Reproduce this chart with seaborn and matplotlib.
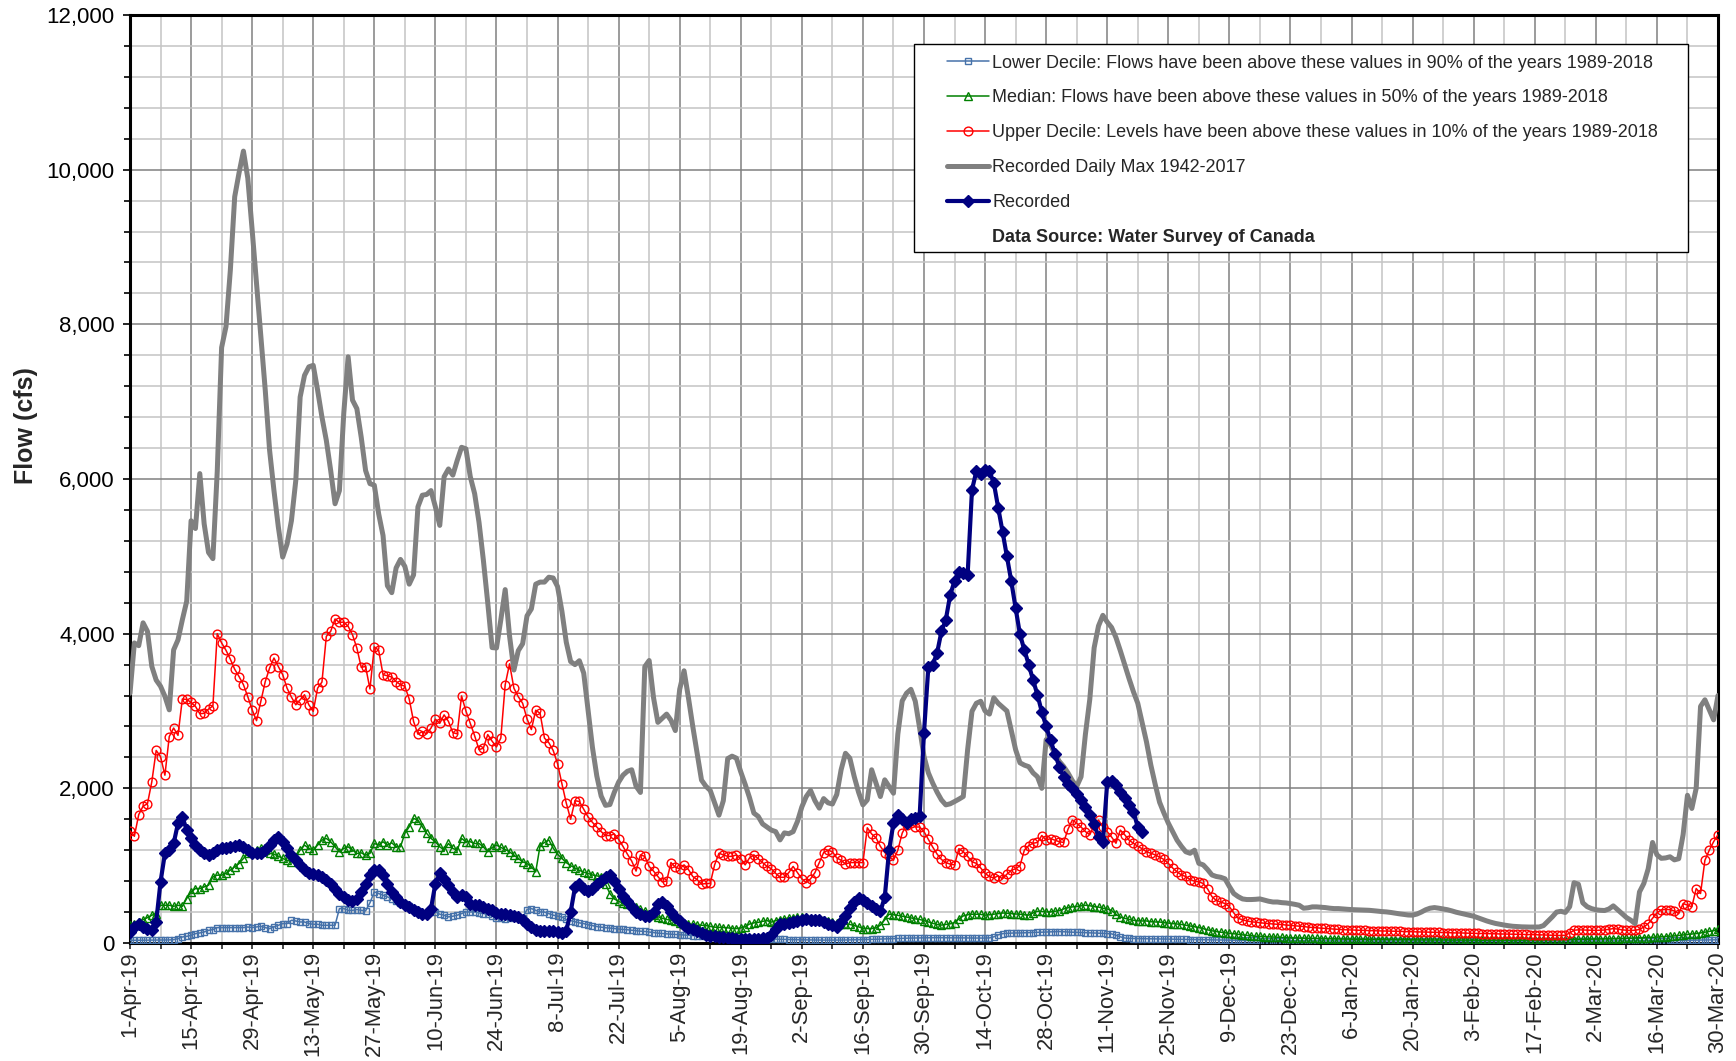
import pandas as pd
import matplotlib
matplotlib.use("Agg")
import matplotlib.pyplot as plt
import matplotlib.dates as mdates
import matplotlib.ticker as mticker
from matplotlib.lines import Line2D
from matplotlib.patches import Rectangle
import seaborn as sns

# daily values, 1-Apr-19 .. 30-Mar-20 (rows of 14 days)
daily_max = [
    3230, 3880, 3845, 4140, 4030, 3577, 3400, 3320, 3190, 3015, 3790, 3920, 4180, 4420,
    5460, 5360, 6070, 5420, 5050, 4970, 6100, 7700, 7970, 8700, 9650, 9960, 10240, 9890,
    9220, 8530, 7840, 7150, 6370, 5850, 5380, 4990, 5160, 5460, 5980, 7060, 7340, 7450,
    7470, 7150, 6800, 6500, 6110, 5680, 5850, 6850, 7580, 7020, 6910, 6540, 6110, 5940,
    5920, 5550, 5270, 4620, 4530, 4850, 4960, 4870, 4640, 4760, 5640, 5790, 5800, 5850,
    5640, 5400, 6030, 6130, 6050, 6240, 6410, 6390, 6030, 5810, 5440, 4950, 4400, 3820,
    3815, 4180, 4570, 3970, 3530, 3780, 3870, 4230, 4320, 4640, 4667, 4667, 4730, 4720,
    4610, 4290, 3890, 3640, 3600, 3650, 3490, 3013, 2530, 2160, 1900, 1780, 1790, 1947,
    2080, 2170, 2220, 2240, 2027, 1947, 3573, 3653, 3173, 2853, 2907, 2960, 2880, 2747,
    3280, 3520, 3173, 2800, 2453, 2107, 2027, 1973, 1813, 1653, 1840, 2384, 2416, 2390,
    2213, 2053, 1880, 1680, 1637, 1540, 1500, 1460, 1440, 1333, 1424, 1413, 1440, 1573,
    1760, 1893, 1973, 1840, 1744, 1867, 1813, 1797, 1920, 2240, 2453, 2390, 2153, 1950,
    1786, 1850, 2240, 2067, 1894, 2110, 2024, 1937, 2700, 3130, 3230, 3280, 3126, 2780,
    2413, 2200, 2067, 1950, 1850, 1786, 1800, 1829, 1860, 1894, 2500, 2996, 3100, 3126,
    3000, 2960, 3170, 3100, 3050, 3000, 2750, 2500, 2330, 2300, 2280, 2200, 2150, 2000,
    2630, 2560, 2450, 2350, 2283, 2200, 2100, 2024, 2150, 2700, 3150, 3818, 4100, 4237,
    4150, 4080, 3950, 3780, 3600, 3420, 3250, 3100, 2850, 2600, 2300, 2050, 1820, 1680,
    1550, 1440, 1330, 1250, 1180, 1160, 1200, 1030, 1010, 950, 880, 860, 850, 830,
    730, 640, 600, 570, 562, 562, 565, 570, 555, 540, 530, 530, 522, 518,
    510, 500, 488, 450, 455, 467, 467, 462, 458, 450, 445, 445, 440, 436,
    432, 430, 427, 425, 423, 418, 412, 406, 402, 395, 386, 377, 370, 362,
    360, 375, 400, 430, 450, 458, 450, 440, 430, 415, 398, 385, 372, 360,
    346, 326, 305, 285, 268, 253, 242, 232, 223, 216, 212, 209, 207, 206,
    206, 207, 225, 280, 337, 400, 410, 395, 470, 780, 760, 520, 470, 445,
    430, 423, 420, 440, 480, 430, 380, 330, 295, 250, 660, 770, 960, 1300,
    1140, 1095, 1100, 1115, 1075, 1090, 1400, 1910, 1740, 2000, 3060, 3145, 3015, 2886,
    3200,
]

upper_decile = [
    1450, 1380, 1660, 1770, 1800, 2085, 2490, 2410, 2170, 2670, 2780, 2685, 3155, 3150,
    3110, 3060, 2965, 2970, 3025, 3065, 4000, 3880, 3785, 3670, 3540, 3445, 3340, 3185,
    3015, 2875, 3130, 3380, 3555, 3685, 3575, 3470, 3295, 3180, 3080, 3145, 3210, 3080,
    2995, 3295, 3375, 3965, 4030, 4190, 4145, 4150, 4095, 3985, 3815, 3565, 3575, 3285,
    3830, 3785, 3470, 3455, 3440, 3380, 3340, 3320, 3155, 2865, 2700, 2735, 2705, 2780,
    2895, 2840, 2950, 2865, 2720, 2705, 3195, 3000, 2840, 2680, 2500, 2520, 2695, 2610,
    2535, 2650, 3340, 3610, 3295, 3185, 3100, 2900, 2760, 3010, 2970, 2650, 2590, 2490,
    2320, 2060, 1810, 1600, 1840, 1830, 1730, 1630, 1560, 1500, 1440, 1390, 1390, 1410,
    1340, 1250, 1150, 1060, 930, 1140, 1120, 990, 930, 860, 790, 800, 1040, 980,
    960, 1010, 950, 860, 820, 760, 770, 770, 1010, 1160, 1140, 1120, 1120, 1140,
    1090, 1010, 1100, 1140, 1090, 1040, 990, 960, 900, 850, 850, 910, 990, 910,
    830, 780, 830, 910, 1040, 1170, 1200, 1180, 1100, 1070, 1020, 1040, 1040, 1040,
    1040, 1490, 1410, 1360, 1250, 1170, 1120, 1070, 1200, 1420, 1530, 1550, 1500, 1500,
    1440, 1340, 1240, 1150, 1080, 1040, 1020, 1010, 1220, 1180, 1120, 1050, 1030, 970,
    900, 860, 840, 870, 830, 890, 940, 960, 1000, 1200, 1260, 1290, 1300, 1390,
    1330, 1350, 1330, 1310, 1300, 1470, 1590, 1550, 1500, 1440, 1400, 1520, 1590, 1500,
    1440, 1370, 1290, 1460, 1400, 1330, 1290, 1250, 1220, 1180, 1160, 1140, 1110, 1080,
    1030, 970, 920, 880, 860, 820, 800, 790, 770, 700, 600, 550, 530, 510,
    470, 390, 320, 300, 285, 275, 268, 262, 256, 250, 246, 242, 238, 232,
    228, 222, 218, 212, 206, 200, 196, 192, 188, 184, 180, 175, 172, 170,
    168, 166, 164, 162, 160, 158, 157, 156, 155, 154, 152, 150, 148, 146,
    145, 144, 143, 142, 140, 138, 136, 135, 134, 132, 130, 130, 128, 126,
    125, 124, 122, 121, 120, 118, 117, 116, 115, 114, 113, 112, 110, 108,
    107, 106, 104, 102, 100, 98, 97, 100, 130, 165, 170, 168, 166, 165,
    163, 165, 168, 178, 186, 180, 170, 165, 162, 165, 175, 207, 250, 320,
    390, 430, 432, 432, 415, 380, 510, 490, 467, 704, 640, 1070, 1200, 1310,
    1400,
]

median = [
    229, 251, 272, 302, 328, 359, 380, 488, 488, 488, 475, 488, 475, 575,
    661, 704, 704, 726, 747, 855, 877, 877, 899, 942, 985, 1028, 1093, 1158,
    1179, 1201, 1223, 1201, 1158, 1149, 1123, 1093, 1071, 1050, 1115, 1201, 1266, 1223,
    1201, 1266, 1331, 1352, 1309, 1244, 1179, 1223, 1244, 1201, 1158, 1166, 1136, 1158,
    1287, 1266, 1309, 1266, 1296, 1244, 1244, 1417, 1503, 1611, 1590, 1503, 1417, 1352,
    1309, 1244, 1201, 1287, 1223, 1201, 1352, 1309, 1309, 1287, 1287, 1244, 1179, 1236,
    1266, 1236, 1210, 1179, 1136, 1093, 1050, 1028, 985, 920, 1260, 1300, 1333, 1227,
    1147, 1093, 1040, 1000, 970, 940, 915, 900, 880, 869, 853, 760, 640, 570,
    540, 515, 500, 490, 470, 440, 411, 380, 360, 340, 320, 305, 295, 280,
    260, 245, 240, 240, 230, 229, 225, 215, 205, 203, 200, 197, 187, 187,
    195, 210, 245, 260, 267, 280, 290, 270, 290, 300, 315, 320, 325, 331,
    336, 320, 305, 295, 293, 293, 290, 277, 255, 251, 242, 240, 225, 210,
    187, 187, 187, 195, 230, 300, 373, 365, 357, 347, 336, 325, 312, 304,
    290, 272, 255, 240, 232, 240, 248, 265, 310, 350, 365, 372, 372, 370,
    360, 365, 372, 380, 388, 385, 380, 375, 372, 365, 360, 389, 410, 408,
    402, 402, 410, 420, 440, 455, 467, 472, 480, 488, 482, 470, 465, 450,
    440, 420, 370, 335, 320, 305, 294, 287, 285, 285, 275, 272, 272, 262,
    258, 251, 246, 240, 230, 220, 210, 200, 185, 170, 158, 148, 140, 132,
    124, 120, 112, 105, 99, 92, 88, 86, 82, 80, 78, 75, 72, 69,
    68, 66, 65, 63, 62, 60, 59, 58, 56, 55, 54, 52, 51, 50,
    49, 48, 48, 47, 46, 46, 45, 45, 44, 44, 43, 43, 42, 42,
    41, 41, 40, 40, 40, 39, 39, 39, 38, 38, 38, 37, 37, 37,
    37, 36, 36, 36, 36, 36, 35, 35, 35, 35, 35, 35, 35, 36,
    36, 37, 38, 39, 40, 41, 42, 43, 44, 45, 46, 47, 48, 49,
    50, 51, 52, 53, 55, 57, 59, 60, 62, 64, 66, 68, 70, 73,
    76, 80, 84, 88, 92, 98, 104, 110, 116, 122, 130, 140, 150, 160,
    175,
]

lower_decile = [
    35, 35, 35, 36, 37, 37, 38, 38, 39, 40, 43, 56, 78, 86,
    99, 121, 130, 143, 164, 173, 199, 199, 200, 200, 199, 199, 199, 207,
    199, 207, 216, 199, 186, 207, 229, 251, 251, 294, 285, 272, 272, 251,
    242, 242, 229, 229, 229, 229, 445, 445, 423, 423, 432, 423, 415, 520,
    661, 639, 618, 596, 575, 544, 518, 501, 475, 445, 415, 389, 389, 423,
    402, 372, 359, 337, 346, 359, 380, 402, 402, 402, 389, 380, 372, 346,
    328, 328, 315, 328, 337, 337, 328, 432, 445, 423, 402, 400, 380, 360,
    347, 336, 304, 290, 275, 260, 251, 235, 225, 213, 205, 197, 193, 187,
    182, 175, 171, 165, 160, 153, 149, 142, 135, 128, 123, 118, 114, 110,
    107, 104, 100, 96, 91, 89, 86, 83, 80, 78, 75, 72, 69, 66,
    64, 62, 60, 58, 56, 54, 53, 52, 50, 48, 46, 44, 43, 42,
    40, 39, 38, 37, 37, 37, 37, 37, 38, 38, 39, 40, 41, 42,
    43, 45, 47, 49, 51, 53, 55, 57, 59, 61, 63, 64, 65, 66,
    67, 68, 69, 69, 68, 68, 67, 67, 66, 66, 65, 65, 64, 64,
    64, 66, 80, 105, 121, 125, 128, 130, 130, 132, 133, 135, 138, 140,
    143, 143, 145, 148, 145, 143, 140, 138, 136, 135, 133, 130, 128, 125,
    122, 118, 100, 80, 65, 60, 58, 57, 56, 55, 54, 53, 52, 51,
    50, 49, 48, 47, 46, 45, 44, 43, 42, 41, 40, 39, 38, 37,
    36, 35, 35, 34, 34, 33, 33, 32, 32, 31, 31, 30, 30, 30,
    29, 29, 29, 28, 28, 28, 27, 27, 27, 27, 26, 26, 26, 26,
    26, 25, 25, 25, 25, 25, 25, 24, 24, 24, 24, 24, 24, 24,
    24, 24, 24, 24, 23, 23, 23, 23, 23, 23, 23, 23, 23, 23,
    23, 23, 23, 23, 23, 23, 23, 23, 23, 23, 23, 23, 23, 23,
    23, 23, 23, 24, 24, 24, 24, 24, 24, 25, 25, 25, 25, 25,
    26, 26, 26, 27, 27, 27, 28, 28, 28, 29, 29, 30, 30, 31,
    31, 32, 32, 33, 33, 34, 34, 35, 35, 36, 37, 38, 39, 40,
    42,
]

# recorded flow, 1-Apr-19 .. 19-Nov-19
recorded = [
    143, 207, 251, 207, 186, 164, 272, 791, 1158, 1201, 1287, 1547, 1633, 1460,
    1352, 1266, 1201, 1158, 1136, 1166, 1201, 1223, 1223, 1244, 1253, 1266, 1244, 1201,
    1166, 1158, 1158, 1201, 1266, 1331, 1374, 1309, 1223, 1136, 1071, 1007, 942, 899,
    890, 877, 847, 812, 769, 704, 639, 596, 553, 544, 575, 661, 769, 877,
    942, 942, 877, 769, 661, 596, 531, 488, 467, 423, 402, 380, 380, 445,
    769, 899, 834, 747, 661, 596, 618, 596, 510, 488, 488, 467, 445, 423,
    389, 380, 372, 359, 346, 330, 294, 251, 207, 164, 150, 160, 160, 150,
    144, 135, 160, 400, 720, 763, 693, 670, 700, 760, 800, 850, 880, 800,
    693, 613, 540, 460, 400, 380, 355, 347, 400, 507, 533, 480, 400, 330,
    280, 230, 200, 175, 150, 130, 107, 96, 85, 80, 75, 69, 64, 55,
    53, 53, 53, 53, 55, 60, 64, 107, 187, 240, 251, 260, 267, 280,
    293, 304, 295, 300, 295, 275, 250, 230, 213, 267, 347, 453, 533, 587,
    560, 520, 480, 440, 411, 590, 1200, 1550, 1650, 1600, 1550, 1600, 1620, 1640,
    2720, 3570, 3600, 3750, 4030, 4180, 4500, 4680, 4800, 4780, 4760, 5860, 6100, 6060,
    6120, 6100, 5950, 5630, 5320, 5000, 4680, 4330, 3990, 3790, 3600, 3400, 3210, 2990,
    2800, 2620, 2450, 2280, 2150, 2060, 2000, 1930, 1850, 1760, 1650, 1540, 1370, 1300,
    2080, 2100, 2040, 1950, 1870, 1780, 1700, 1500, 1440,
]

legend_labels = [
    "Lower Decile: Flows have been above these values in 90% of the years 1989-2018",
    "Median: Flows have been above these values in 50% of the years 1989-2018",
    "Upper Decile: Levels have been above these values in 10% of the years 1989-2018",
    "Recorded Daily Max 1942-2017",
    "Recorded",
    "Data Source: Water Survey of Canada",
]

dates = pd.date_range("2019-04-01", "2020-03-30", freq="D")

sns.set_style("white")
plt.rcParams["font.family"] = ["Liberation Sans", "DejaVu Sans"]

W, H = 1736, 1061
fig = plt.figure(figsize=(W / 100, H / 100), dpi=100)
ax = fig.add_axes([130 / W, 1 - 943 / H, (1718 - 130) / W, (943 - 15) / H])

styles = [
    dict(y=lower_decile, color="#4672aa", lw=1.1, marker="s", ms=5, mfc="none", mew=1.0),
    dict(y=median, color="#008000", lw=1.1, marker="^", ms=5.5, mfc="none", mew=1.0),
    dict(y=upper_decile, color="#ff0000", lw=1.1, marker="o", ms=6.3, mfc="none", mew=1.0),
    dict(y=daily_max, color="#808080", lw=3.6, marker=None, ms=0, mfc="none", mew=0),
    dict(y=recorded, color="#000080", lw=3.0, marker="D", ms=6.5, mfc="#000080", mew=1.0),
]

handles = []
for z, s in enumerate(styles):
    x = dates[:len(s["y"])]
    sns.lineplot(x=x, y=s["y"], ax=ax, color=s["color"], linewidth=s["lw"],
                 marker=s["marker"], markersize=s["ms"], markerfacecolor=s["mfc"],
                 markeredgecolor=s["color"], markeredgewidth=s["mew"], zorder=3 + z)
    handles.append(Line2D([], [], color=s["color"], lw=s["lw"], marker=s["marker"],
                          ms=s["ms"], mfc=s["mfc"], mec=s["color"], mew=s["mew"]))
handles.append(Line2D([], [], linestyle="none"))

# axes
ax.set_xlim(dates[0], dates[-1])
ax.set_ylim(0, 12000)
ax.xaxis.set_major_locator(mticker.FixedLocator(mdates.date2num(dates[::14])))
ax.xaxis.set_minor_locator(mticker.FixedLocator(mdates.date2num(dates[7::14])))
ax.xaxis.set_major_formatter(mticker.FuncFormatter(
    lambda v, p: (lambda d: f"{d.day}-{d.strftime('%b-%y')}")(mdates.num2date(v))))
ax.yaxis.set_major_locator(mticker.MultipleLocator(2000))
ax.yaxis.set_minor_locator(mticker.MultipleLocator(400))
ax.yaxis.set_major_formatter(mticker.StrMethodFormatter("{x:,.0f}"))

ax.grid(which="major", color="#808080", lw=1.1)
ax.grid(which="minor", color="#c4c4c4", lw=1.1)
ax.set_axisbelow(True)
for sp in ax.spines.values():
    sp.set_color("black")
    sp.set_linewidth(2.2)

ax.tick_params(axis="y", which="both", direction="out", left=True, colors="black",
               labelsize=16, pad=6)
ax.tick_params(axis="y", which="major", length=5, width=1.2)
ax.tick_params(axis="y", which="minor", length=4, width=1.2)
ax.tick_params(axis="x", which="both", direction="out", bottom=True, length=4, width=1.2,
               labelsize=15.8, pad=2, labelrotation=90)
ax.set_xlabel("")
ax.set_ylabel("Flow (cfs)", fontsize=18, fontweight="bold")
ax.yaxis.set_label_coords(38 / W, 1 - 426 / H, transform=fig.transFigure)

# legend box
box = Rectangle((914 / W, 1 - 252 / H), (1688 - 914) / W, (252 - 44) / H,
                transform=fig.transFigure, facecolor="white", edgecolor="black",
                lw=1.0, zorder=4)
fig.add_artist(box)
leg = fig.legend(handles, legend_labels, loc="upper left",
                 bbox_to_anchor=(938 / W, 1 - 45.5 / H), frameon=False, fontsize=13,
                 handlelength=2.3, handletextpad=0.2, labelspacing=0.99, borderpad=0,
                 numpoints=1)
leg.set_zorder(5)
leg.get_texts()[-1].set_fontweight("bold")

fig.savefig("out.png", dpi=100)
